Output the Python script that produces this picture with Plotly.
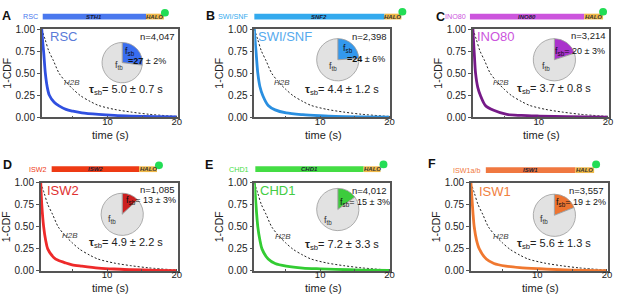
import plotly.graph_objects as go

W, H = 617, 300

# ---------------- data ----------------
panel_letters = ["A", "B", "C", "D", "E", "F"]
complex_names = ["RSC", "SWI/SNF", "INO80", "ISW2", "CHD1", "ISW1"]
header_labels = ["RSC", "SWI/SNF", "INO80", "ISW2", "CHD1", "ISW1a/b"]
subunit_labels = ["STH1", "SNF2", "INO80", "ISW2", "CHD1", "ISW1"]
n_counts = ["4,047", "2,398", "3,214", "1,085", "4,012", "3,557"]
f_sb = [27, 24, 20, 13, 15, 19]
f_sb_err = [2, 6, 3, 3, 3, 2]
tau_sb = [5.0, 4.4, 3.7, 4.9, 7.2, 5.6]
tau_sb_err = [0.7, 1.2, 0.8, 2.2, 3.3, 1.3]

x_ticks = [10, 20]
y_ticks = [0, 0.25, 0.5, 0.75, 1.0]

time_h2b = [0.5, 1.0, 1.5, 2.2, 3.0, 4.0, 5.0, 6.1, 7.5, 8.7, 11.0, 13.4, 16.0, 20.0]
cdf_h2b = [1.0, 0.88, 0.755, 0.64, 0.5, 0.4, 0.32, 0.245, 0.18, 0.135, 0.09, 0.06, 0.035, 0.01]

time_rsc = [0.5, 0.65, 0.8, 1.02, 1.3, 1.6, 2.3, 3.0, 4.0, 5.0, 6.3, 8.7, 11.0, 13.4, 17.0, 20.0]
cdf_rsc = [1.0, 0.85, 0.72, 0.5, 0.34, 0.25, 0.17, 0.13, 0.09, 0.07, 0.05, 0.033, 0.022, 0.015, 0.008, 0.004]

time_swisnf = [0.5, 0.6, 0.74, 1.0, 1.3, 1.73, 2.5, 3.5, 5.1, 7.5, 10.0, 12.2, 16.0, 20.0]
cdf_swisnf = [1.0, 0.88, 0.75, 0.5, 0.35, 0.245, 0.135, 0.085, 0.05, 0.03, 0.018, 0.01, 0.005, 0.002]

time_ino80 = [0.5, 0.6, 0.7, 0.88, 1.2, 1.6, 2.3, 3.5, 5.4, 7.5, 10.1, 14.0, 20.0]
cdf_ino80 = [1.0, 0.85, 0.72, 0.5, 0.34, 0.245, 0.135, 0.08, 0.033, 0.022, 0.015, 0.007, 0.002]

time_isw2 = [0.5, 0.65, 0.92, 1.2, 1.5, 2.4, 3.0, 4.1, 5.0, 6.4, 8.8, 11.0, 13.5, 17.0, 20.0]
cdf_isw2 = [1.0, 0.75, 0.5, 0.35, 0.25, 0.15, 0.12, 0.09, 0.07, 0.055, 0.033, 0.022, 0.015, 0.007, 0.004]

time_chd1 = [0.5, 0.65, 0.8, 1.0, 1.3, 1.6, 2.5, 3.5, 5.1, 7.5, 10.0, 12.2, 16.0, 20.0]
cdf_chd1 = [1.0, 0.85, 0.68, 0.5, 0.35, 0.25, 0.135, 0.085, 0.055, 0.033, 0.024, 0.018, 0.01, 0.005]

time_isw1 = [0.5, 0.65, 0.8, 0.97, 1.3, 1.7, 2.7, 3.8, 5.5, 7.5, 10.3, 14.0, 20.0]
cdf_isw1 = [1.0, 0.82, 0.65, 0.5, 0.35, 0.25, 0.135, 0.085, 0.055, 0.038, 0.025, 0.012, 0.003]

series_time = [time_rsc, time_swisnf, time_ino80, time_isw2, time_chd1, time_isw1]
series_cdf = [cdf_rsc, cdf_swisnf, cdf_ino80, cdf_isw2, cdf_chd1, cdf_isw1]

# ---------------- styles / geometry (pixels) ----------------
line_colors = ["#3050e0", "#2a8fe0", "#761a88", "#ee2a2a", "#33cc33", "#f07830"]
label_colors = ["#5a7bd8", "#55aaee", "#cc55dd", "#e03030", "#44cc44", "#f08040"]
bar_colors = ["#4a78ee", "#33aaee", "#cc55dd", "#ee3a14", "#44dd44", "#f07840"]
pie_colors = ["#3a6ef0", "#3399ee", "#aa33cc", "#cc2020", "#3ccc3c", "#ee7430"]
halo_color = "#f0b848"
dot_color = "#22dd55"
grey_slice = "#e2e2e2"
FONT = "Liberation Sans, Arial, sans-serif"

axes_box = [(42, 179, 24, 116), (256, 393, 24, 116), (476, 613, 24, 116),
            (41, 179, 184, 276), (256, 393, 184, 276), (474, 612, 184, 276)]
# label_right, bar_x0, halo_x0, halo_x1, dot_x, bar_cy, dot_cy
header_geo = [(40, 43, 147, 165, 166, 11, 7), (253, 256, 387, 404, 405, 11, 6),
              (471, 473, 588, 607, 607, 11, 6), (49, 52, 140, 158, 160, 170, 166),
              (253, 257, 366, 383, 386, 170, 165), (486, 489, 579, 598, 600, 171, 165)]
letter_pos = [(7, 10), (212, 10), (443, 11), (8, 166), (210, 166), (435, 165)]
pie_geo = [(123, 59, 21), (340, 56, 22), (558, 56, 22), (123, 217, 22), (340, 212, 22), (558, 218, 22)]
big_label_pos = [(48, 32), (258, 32), (478, 32), (45, 192), (260, 192), (480, 193)]
n_pos = [(178, 32), (392, 32), (612, 31), (178, 191), (392, 192), (610, 192)]
tau_pos = [(127, 88), (344, 87), (558, 86), (127, 247), (344, 249), (558, 248)]
ftb_pos = [(120, 62), (335, 63), (550, 63), (113, 222), (330, 223), (548, 222)]
h2b_pos = [(72, 80), (284, 80), (504, 80), (70, 239), (285, 240), (504, 240)]
xtitle_y = [134, 134, 134, 294, 294, 294]
fsb_two = {0: ((131, 47), (127, 57)), 1: ((350, 44), (347, 55))}
fsb_one = {2: (557, 47), 3: (125, 203), 4: (340, 205), 5: (558, 205)}


def X(p):
    return p / W


def Y(p):
    return 1 - p / H


fig = go.Figure()
layout = dict(width=W, height=H, margin=dict(l=0, r=0, t=0, b=0),
              paper_bgcolor="white", plot_bgcolor="white", showlegend=False,
              font=dict(family=FONT, color="#222"))
annotations = []
shapes = []

for i in range(6):
    k = "" if i == 0 else str(i + 1)
    x0, x1, y0, y1 = axes_box[i]
    layout["xaxis" + k] = dict(
        domain=[X(x0), X(x1)], range=[0.5, 20.15], anchor="y" + k,
        tickvals=x_ticks, ticks="inside", ticklen=2, tickwidth=1, tickcolor="#555",
        showline=True, linecolor="#555", linewidth=1.5, mirror=True, showgrid=False,
        zeroline=False, tickfont=dict(size=9.5, color="#222"), ticklabelstandoff=-6,
        minor=dict(tickvals=[5, 15], ticks="inside", ticklen=2, tickcolor="#555"))
    layout["yaxis" + k] = dict(
        domain=[Y(y1), Y(y0)], range=[0, 1.0], anchor="x" + k,
        tickvals=y_ticks, tickformat=".2f", ticks="outside", ticklen=3, tickwidth=1,
        tickcolor="#555", showline=True, linecolor="#555", linewidth=1.5, mirror=True,
        showgrid=False, zeroline=False, tickfont=dict(size=10, color="#222"),
        title=dict(text="1-CDF", font=dict(size=10.5, color="#222"), standoff=2))

    fig.add_trace(go.Scatter(x=time_h2b, y=cdf_h2b, mode="lines", xaxis="x" + k, yaxis="y" + k,
                             line=dict(color="#222", width=1, dash="2px,2px", shape="spline", smoothing=0.8)))
    fig.add_trace(go.Scatter(x=series_time[i], y=series_cdf[i], mode="lines", xaxis="x" + k, yaxis="y" + k,
                             line=dict(color=line_colors[i], width=2.8, shape="spline", smoothing=0.8)))

    cx, cy, r = pie_geo[i]
    fig.add_trace(go.Pie(values=[f_sb[i], 100 - f_sb[i]], sort=False, direction="clockwise", rotation=0,
                         textinfo="none", hoverinfo="skip",
                         marker=dict(colors=[pie_colors[i], grey_slice], line=dict(color="#9a9a9a", width=0.8)),
                         domain=dict(x=[X(cx - r), X(cx + r)], y=[Y(cy + r), Y(cy - r)])))

    # header construct
    lr, bx0, hx0, hx1, dx, bcy, dcy = header_geo[i]
    shapes.append(dict(type="rect", xref="paper", yref="paper", x0=X(bx0), x1=X(hx0),
                       y0=Y(bcy + 3), y1=Y(bcy - 3), fillcolor=bar_colors[i], line=dict(width=0)))
    shapes.append(dict(type="rect", xref="paper", yref="paper", x0=X(hx0), x1=X(hx1),
                       y0=Y(bcy + 3), y1=Y(bcy - 3), fillcolor=halo_color, line=dict(width=0)))
    shapes.append(dict(type="circle", xref="paper", yref="paper", x0=X(dx - 4), x1=X(dx + 4),
                       y0=Y(dcy + 4), y1=Y(dcy - 4), fillcolor=dot_color, line=dict(width=0)))
    annotations.append(dict(x=X(lr), y=Y(bcy), text=header_labels[i], xanchor="right", yanchor="middle",
                            font=dict(size=7.2, color=bar_colors[i])))
    annotations.append(dict(x=X((bx0 + hx0) / 2), y=Y(bcy), text="<b><i>%s</i></b>" % subunit_labels[i],
                            xanchor="center", yanchor="middle", font=dict(size=6, color="#1a1a33")))
    annotations.append(dict(x=X((hx0 + hx1) / 2), y=Y(bcy), text="<b><i>HALO</i></b>",
                            xanchor="center", yanchor="middle", font=dict(size=6, color="#333")))
    lx, ly = letter_pos[i]
    annotations.append(dict(x=X(lx), y=Y(ly), text="<b>%s</b>" % panel_letters[i], xanchor="center",
                            yanchor="middle", font=dict(size=12.5, color="#111")))

    annotations.append(dict(x=X((x0 + x1) / 2 + 1), y=Y(xtitle_y[i]), text="time (s)", xanchor="center",
                            yanchor="middle", font=dict(size=11, color="#222")))
    bx, by = big_label_pos[i]
    annotations.append(dict(x=X(bx), y=Y(by), text=complex_names[i], xanchor="left", yanchor="middle",
                            font=dict(size=13, color=label_colors[i])))
    nx, ny = n_pos[i]
    annotations.append(dict(x=X(nx), y=Y(ny), text="n=%s" % n_counts[i], xanchor="right", yanchor="middle",
                            font=dict(size=9.5, color="#222")))
    tx, ty = tau_pos[i]
    annotations.append(dict(x=X(tx), y=Y(ty),
                            text="<b>τ</b><sub>sb</sub>= %.1f ± %.1f s" % (tau_sb[i], tau_sb_err[i]),
                            xanchor="center", yanchor="middle", font=dict(size=11, color="#222")))
    fx, fy = ftb_pos[i]
    annotations.append(dict(x=X(fx), y=Y(fy), text="f<sub>tb</sub>", xanchor="center", yanchor="middle",
                            font=dict(size=9, color="#333")))
    hx, hy = h2b_pos[i]
    annotations.append(dict(x=X(hx), y=Y(hy), text="<i>H2B</i>", xanchor="center", yanchor="middle",
                            font=dict(size=8, color="#444")))
    if i in fsb_two:
        (ax_, ay_), (vx, vy) = fsb_two[i]
        annotations.append(dict(x=X(ax_), y=Y(ay_), text="f<sub>sb</sub>", xanchor="center",
                                yanchor="middle", font=dict(size=9, color="#111")))
        annotations.append(dict(x=X(vx), y=Y(vy), text="<b>=%d</b> ± %d%%" % (f_sb[i], f_sb_err[i]),
                                xanchor="left", yanchor="middle", font=dict(size=9, color="#111")))
    else:
        vx, vy = fsb_one[i]
        annotations.append(dict(x=X(vx), y=Y(vy),
                                text="f<sub>sb</sub>= %d ± %d%%" % (f_sb[i], f_sb_err[i]),
                                xanchor="left", yanchor="middle", font=dict(size=9, color="#111")))

for a in annotations:
    a.update(xref="paper", yref="paper", showarrow=False)
layout["annotations"] = annotations
layout["shapes"] = shapes
fig.update_layout(**layout)
fig.write_html("out.html", config={"displayModeBar": False},
               post_script="document.body.style.margin='0px';document.body.style.overflow='hidden';")
